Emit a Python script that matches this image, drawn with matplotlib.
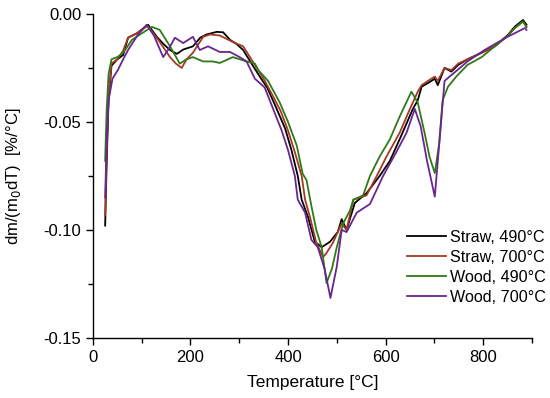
import matplotlib
matplotlib.use("Agg")
import matplotlib.pyplot as plt
from matplotlib.ticker import MultipleLocator, FormatStrFormatter

plt.rcParams['font.family'] = ['Liberation Sans', 'DejaVu Sans']
plt.rcParams['axes.unicode_minus'] = False

# Straw, 490°C
t_s490 = [25, 28, 32, 38, 50, 62, 72, 90, 113, 131, 145, 158, 172, 185, 205, 220, 233, 254, 267, 281, 295, 308, 328, 345, 357, 373, 394, 407, 420, 428, 441, 455, 469, 486, 502, 510, 520, 537, 561, 588, 609, 629, 656, 666, 674, 687, 701, 707, 721, 735, 749, 768, 797, 824, 851, 865, 882, 889]
y_s490 = [-0.098, -0.070, -0.040, -0.024, -0.021, -0.019, -0.011, -0.009, -0.005, -0.0106, -0.014, -0.0167, -0.0185, -0.0165, -0.015, -0.011, -0.0095, -0.0083, -0.0085, -0.012, -0.014, -0.0167, -0.024, -0.030, -0.034, -0.042, -0.053, -0.063, -0.075, -0.086, -0.094, -0.1055, -0.108, -0.1055, -0.101, -0.095, -0.100, -0.0875, -0.083, -0.075, -0.068, -0.058, -0.044, -0.040, -0.0337, -0.032, -0.030, -0.033, -0.025, -0.0267, -0.0236, -0.021, -0.018, -0.015, -0.0097, -0.0059, -0.0028, -0.005]

# Straw, 700°C
t_s700 = [25, 28, 32, 38, 50, 62, 72, 90, 112, 134, 158, 170, 182, 192, 205, 226, 240, 260, 287, 308, 332, 350, 369, 385, 400, 414, 428, 435, 445, 458, 472, 478, 492, 510, 520, 534, 561, 582, 602, 629, 650, 666, 674, 687, 701, 707, 721, 735, 749, 768, 797, 824, 851, 865, 882, 889]
y_s700 = [-0.093, -0.065, -0.038, -0.023, -0.021, -0.017, -0.011, -0.009, -0.0055, -0.012, -0.020, -0.023, -0.025, -0.021, -0.018, -0.0106, -0.0095, -0.010, -0.013, -0.015, -0.0236, -0.030, -0.038, -0.045, -0.054, -0.064, -0.075, -0.086, -0.094, -0.106, -0.1125, -0.111, -0.106, -0.097, -0.100, -0.086, -0.084, -0.075, -0.066, -0.055, -0.044, -0.036, -0.0330, -0.031, -0.029, -0.031, -0.025, -0.026, -0.023, -0.021, -0.018, -0.015, -0.0100, -0.0065, -0.0035, -0.006]

# Wood, 490°C
t_w490 = [25, 28, 32, 38, 50, 62, 80, 100, 121, 137, 158, 178, 192, 205, 226, 246, 260, 287, 315, 332, 339, 359, 383, 400, 418, 430, 438, 448, 458, 469, 479, 490, 500, 513, 527, 534, 554, 568, 588, 609, 629, 653, 666, 680, 690, 701, 710, 717, 728, 745, 768, 797, 824, 851, 865, 882, 889]
y_w490 = [-0.068, -0.045, -0.028, -0.021, -0.020, -0.018, -0.012, -0.009, -0.006, -0.0074, -0.015, -0.023, -0.021, -0.020, -0.022, -0.022, -0.0227, -0.020, -0.022, -0.023, -0.026, -0.031, -0.041, -0.050, -0.061, -0.074, -0.077, -0.089, -0.100, -0.108, -0.1246, -0.118, -0.108, -0.097, -0.091, -0.086, -0.084, -0.075, -0.066, -0.058, -0.0475, -0.036, -0.041, -0.055, -0.066, -0.0737, -0.060, -0.040, -0.0337, -0.029, -0.0236, -0.020, -0.015, -0.010, -0.0065, -0.0035, -0.006]

# Wood, 700°C
t_w700 = [25, 28, 32, 40, 51, 62, 72, 92, 110, 125, 144, 156, 168, 185, 205, 219, 236, 260, 281, 301, 315, 332, 352, 373, 387, 400, 414, 420, 435, 448, 461, 475, 487, 500, 510, 520, 541, 568, 595, 622, 643, 660, 672, 685, 701, 712, 721, 742, 768, 803, 851, 886, 889]
y_w700 = [-0.085, -0.060, -0.040, -0.030, -0.026, -0.021, -0.0167, -0.0097, -0.005, -0.010, -0.020, -0.016, -0.011, -0.0135, -0.0106, -0.0167, -0.015, -0.0176, -0.0176, -0.020, -0.022, -0.030, -0.034, -0.046, -0.054, -0.063, -0.075, -0.086, -0.092, -0.1046, -0.108, -0.118, -0.1315, -0.117, -0.100, -0.101, -0.092, -0.088, -0.075, -0.064, -0.055, -0.044, -0.052, -0.068, -0.0846, -0.055, -0.031, -0.027, -0.022, -0.0167, -0.0105, -0.0065, -0.0074]

labels = ["Straw, 490°C", "Straw, 700°C", "Wood, 490°C", "Wood, 700°C"]
colors = ["#000000", "#a33a26", "#2f7a16", "#6a2590"]

fig = plt.figure(figsize=(5.5, 3.98), dpi=100)
ax = fig.add_axes([0.169, 0.151, 0.798, 0.814])

series = [(t_s490, y_s490), (t_s700, y_s700), (t_w490, y_w490), (t_w700, y_w700)]
for (t, y), lab, c in zip(series, labels, colors):
    ax.plot(t, y, color=c, lw=1.3, label=lab)

ax.set_xlim(0, 900)
ax.set_ylim(-0.15, 0.0)
ax.xaxis.set_major_locator(MultipleLocator(200))
ax.xaxis.set_minor_locator(MultipleLocator(100))
ax.yaxis.set_major_locator(MultipleLocator(0.05))
ax.yaxis.set_minor_locator(MultipleLocator(0.025))
ax.yaxis.set_major_formatter(FormatStrFormatter('%.2f'))
for s in ['top', 'right']:
    ax.spines[s].set_visible(False)
for s in ['left', 'bottom']:
    ax.spines[s].set_linewidth(1.0)
ax.tick_params(axis='both', which='major', direction='out', length=5, width=1.0, labelsize=12)
ax.tick_params(axis='both', which='minor', direction='out', length=3.5, width=1.0)

ax.set_xlabel("Temperature [°C]", fontsize=12.5)
ax.set_ylabel("dm/(m$_0$dT)  [%/°C]", fontsize=12)
ax.yaxis.set_label_coords(-0.159, 0.5)
ax.xaxis.set_label_coords(0.5, -0.115)

ax.legend(loc='upper left', bbox_to_anchor=(407/550, 1 - 230/398), bbox_transform=fig.transFigure,
          frameon=False, fontsize=11.6, handlelength=2.4, handletextpad=0.3,
          labelspacing=0.3, borderpad=0, borderaxespad=0)

fig.savefig("out.png", dpi=100)
